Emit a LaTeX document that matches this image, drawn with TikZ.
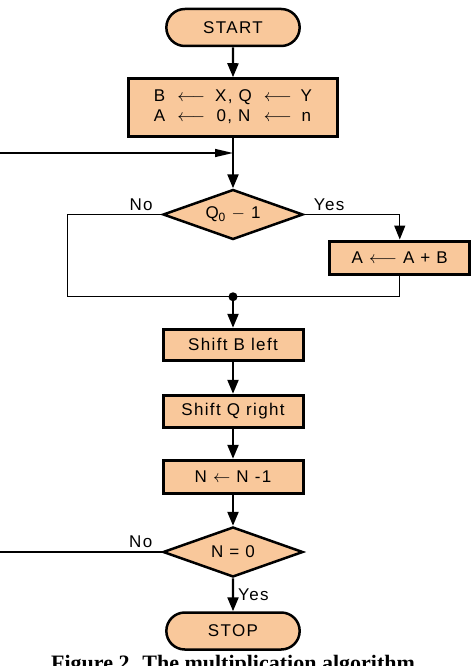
\documentclass[tikz,border=0pt]{standalone}
\usepackage{fontspec}
\setmainfont{Liberation Sans}[LetterSpace=8]
\newfontfamily\capfont{Liberation Serif}
\usetikzlibrary{arrows.meta,positioning,shapes.geometric,shapes.misc}
\definecolor{boxfill}{RGB}{249,200,155}
\newcommand{\subzero}{\raisebox{-3pt}{\fontsize{12}{12}\selectfont 0}}

\begin{document}
\begin{tikzpicture}[x=1pt,y=1pt,
font=\fontsize{17}{20}\selectfont,
terminal/.style={draw,rounded rectangle,line width=2.5pt,fill=boxfill,minimum width=140pt,minimum height=37pt},
stepbox/.style={draw,line width=3pt,fill=boxfill,minimum width=140pt,minimum height=31pt,inner sep=2pt},
test/.style={draw,diamond,aspect=2.8,line width=2.5pt,fill=boxfill,minimum width=140pt,minimum height=50pt,inner sep=0pt},
flow/.style={-{Triangle[length=14pt,width=11pt]},line width=2.3pt},
branch/.style={line width=1.3pt}]
\useasboundingbox (0,0) rectangle (474,-666);
\clip (0,0) rectangle (474,-666);
\node[terminal] (start) at (233,-27.5) {START};
\node[stepbox,minimum width=209pt,minimum height=58pt,below=30pt of start] (init) {%
\begin{tabular}{@{}c@{\hspace{12pt}}c@{\hspace{10pt}}c@{\hspace{12pt}}c@{\hspace{9pt}}c@{}}
B & $\longleftarrow$ & X, Q & $\longleftarrow$ & Y\\
A & $\longleftarrow$ & 0, N & $\longleftarrow$ & n
\end{tabular}};
\node[test,below=50pt of init] (bit) {Q\subzero\ $-$ 1};
\node[stepbox,minimum height=33pt,below right=25pt and 24pt of bit.east] (add) {A $\longleftarrow$ A + B};
\coordinate[below=56pt of bit] (join);
\node[stepbox,below=31pt of join] (shiftb) {Shift B left};
\node[stepbox,minimum height=32pt,below=32pt of shiftb] (shiftq) {Shift Q right};
\node[stepbox,minimum height=33pt,below=30pt of shiftq] (count) {N $\leftarrow$ N -1};
\node[test,below=31pt of count] (done) {N = 0};
\node[terminal,below=33pt of done] (stop) {STOP};
\coordinate (loopin) at (0,-153);
\coordinate (rim) at (0,0);
% main line
\draw[flow] (start) -- (init);
\draw[flow] (init) -- (bit);
\draw[branch,-{Triangle[length=18pt,width=8pt]}] (loopin) -- (loopin -| init.south);
% branches of the test
\draw[branch] (bit.west) -- ++(-94pt,0) node[above,pos=0.22] {No} |- (join);
\draw[branch,-{Triangle[length=14pt,width=11pt]}] (bit.east) -| node[above,pos=0.13] {Yes} (add.north);
\draw[branch] (add.south) |- (join);
\fill (join) circle (4.5pt);
\draw[flow] (join) -- (shiftb);
\draw[flow] (shiftb) -- (shiftq);
\draw[flow] (shiftq) -- (count);
\draw[flow] (count) -- (done);
\draw[flow] (done) -- node[right,inner sep=4pt] {Yes} (stop);
\draw[branch] (done.west) -- node[above,pos=0.13] {No} (done.west -| rim);
\node[font=\capfont\bfseries\fontsize{22}{26}\selectfont,anchor=base] (caption) at (233,-670) {Figure 2. The multiplication algorithm};
\end{tikzpicture}
\end{document}
